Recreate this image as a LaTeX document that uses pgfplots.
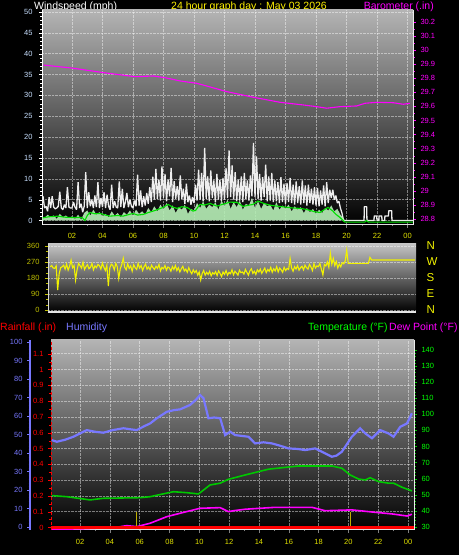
\documentclass[border=0pt]{standalone}
\usepackage{pgfplots}
\pgfplotsset{compat=1.18}
\usepackage{fontspec}
\setmainfont{Liberation Sans}
\definecolor{tickblue}{HTML}{C8E0FF}
\definecolor{baro}{HTML}{FF00FF}
\definecolor{xlab}{HTML}{E0E000}
\definecolor{ylw}{HTML}{F2F200}
\definecolor{olv}{HTML}{C0C000}
\definecolor{gust}{HTML}{EEEEEE}
\definecolor{windfill}{HTML}{B8F0B8}
\definecolor{avgwind}{HTML}{00E000}
\definecolor{hum}{HTML}{7878FF}
\definecolor{temp}{HTML}{00C800}
\definecolor{templab}{HTML}{00FF00}
\definecolor{rain}{HTML}{FF0000}
\definecolor{bgtop}{HTML}{B4B4B4}
\definecolor{bgtop2}{HTML}{C4C4C4}
\definecolor{rainbar}{HTML}{C0B000}
\pgfplotsset{
  base/.style={scale only axis, anchor=south west,
    /pgf/number format/assume math mode=true,
    tick label style={font=\fontsize{7.5}{8}\selectfont},
    major tick length=3pt, minor tick length=1.5pt, tick align=outside},
  dgrid/.style={grid style={densely dotted, white, opacity=0.45, line width=0.5pt}},
}
\begin{document}
\begin{tikzpicture}
\fill[black] (0pt,0pt) rectangle (459pt,555pt);
% titles
\node[anchor=base west, inner sep=0pt, white, font=\fontsize{10.5}{12}\selectfont] at (34pt,545.5pt) {Windspeed (mph)};
\node[anchor=base, inner sep=0pt, yellow, font=\fontsize{10.5}{12}\selectfont] at (249pt,545.5pt) {24 hour graph day : May 03 2026};
\node[anchor=base east, inner sep=0pt, baro, font=\fontsize{10.5}{12}\selectfont] at (434pt,545.5pt) {Barometer (.in)};
\node[anchor=base west, inner sep=0pt, rain, font=\fontsize{10.5}{12}\selectfont] at (0pt,224.5pt) {Rainfall (.in)};
\node[anchor=base west, inner sep=0pt, hum, font=\fontsize{10.5}{12}\selectfont] at (66pt,224.5pt) {Humidity};
\node[anchor=base west, inner sep=0pt, templab, font=\fontsize{10.5}{12}\selectfont] at (308pt,224.5pt) {Temperature (°F)};
\node[anchor=base west, inner sep=0pt, baro, font=\fontsize{10.5}{12}\selectfont] at (389pt,224.5pt) {Dew Point (°F)};

% ===== Panel 1: wind speed =====
\begin{axis}[base, dgrid, at={(42pt,330pt)}, width=371pt, height=215pt,
  xmin=0.033, xmax=24.36, ymin=-1.08, ymax=50.48,
  axis y line*=left, axis x line*=bottom,
  axis background/.style={top color=bgtop, bottom color=black},
  xtick={2,4,...,24}, xticklabels={02,04,06,08,10,12,14,16,18,20,22,00},
  minor x tick num=1,
  ytick={0,5,...,50}, minor y tick num=4,
  xticklabel style={xlab, yshift=-1.5pt},
  yticklabel style={tickblue, xshift=-3pt},
  x axis line style={-, white!75!gray, line width=1pt},
  y axis line style={-, white, line width=1pt},
  x tick style={gray}, y tick style={white},
  grid=major]
\addplot[gust, line width=1.3pt, line join=bevel] table[row sep=\\] {
0.0 3.2\\0.1 5.8\\0.2 3.0\\0.3 3.4\\0.4 2.2\\0.5 5.6\\0.6 3.0\\0.7 5.8\\0.8 3.2\\0.9 2.8\\
1.0 3.0\\1.1 3.4\\1.2 6.9\\1.3 3.0\\1.4 2.6\\1.5 3.8\\1.6 3.0\\1.7 8.0\\1.8 3.2\\1.9 3.0\\
2.0 3.0\\2.1 4.4\\2.2 3.2\\2.3 2.6\\2.4 9.2\\2.5 3.0\\2.6 4.0\\2.7 2.0\\2.8 3.4\\2.9 11.6\\
3.0 3.0\\3.1 6.8\\3.2 3.4\\3.3 5.0\\3.4 3.0\\3.5 6.0\\3.6 3.2\\3.7 9.2\\3.8 3.0\\3.9 5.4\\
4.0 3.2\\4.1 6.8\\4.2 3.0\\4.3 6.2\\4.4 3.4\\4.5 2.6\\4.6 8.6\\4.7 3.0\\4.8 4.6\\4.9 3.2\\
5.0 3.0\\5.1 9.4\\5.2 3.2\\5.3 7.6\\5.4 3.0\\5.5 4.4\\5.6 6.6\\5.7 3.2\\5.8 5.0\\5.9 3.4\\
6.0 3.0\\6.1 4.8\\6.2 3.4\\6.3 11.0\\6.4 3.6\\6.5 7.2\\6.6 3.2\\6.7 5.8\\6.8 3.6\\6.9 6.6\\
7.0 4.0\\7.1 8.0\\7.2 4.4\\7.3 10.5\\7.4 5.0\\7.5 12.4\\7.6 5.2\\7.7 9.8\\7.8 4.8\\7.9 13.0\\
8.0 5.4\\8.1 11.2\\8.2 4.6\\8.3 9.8\\8.4 5.8\\8.5 12.6\\8.6 4.4\\8.7 9.4\\8.8 5.2\\8.9 8.2\\
9.0 4.8\\9.1 10.8\\9.2 5.2\\9.3 7.6\\9.4 4.0\\9.5 8.8\\9.6 4.4\\9.7 6.0\\9.8 3.8\\9.9 5.6\\
10.0 4.2\\10.1 8.6\\10.2 4.8\\10.3 12.2\\10.4 5.0\\10.5 11.4\\10.6 4.6\\10.7 17.4\\10.8 5.2\\10.9 10.6\\
11.0 4.6\\11.1 12.0\\11.2 5.4\\11.3 9.6\\11.4 4.4\\11.5 11.2\\11.6 5.0\\11.7 9.8\\11.8 4.6\\11.9 10.2\\
12.0 5.0\\12.1 12.6\\12.2 5.4\\12.3 16.8\\12.4 5.6\\12.5 13.2\\12.6 5.0\\12.7 11.6\\12.8 4.6\\12.9 9.8\\
13.0 4.8\\13.1 10.6\\13.2 4.4\\13.3 11.4\\13.4 5.2\\13.5 9.6\\13.6 4.8\\13.7 10.8\\13.8 5.8\\13.9 18.6\\
14.0 5.6\\14.1 15.4\\14.2 5.2\\14.3 11.2\\14.4 4.8\\14.5 10.4\\14.6 5.6\\14.7 13.4\\14.8 4.6\\14.9 10.6\\
15.0 4.8\\15.1 11.4\\15.2 4.4\\15.3 9.6\\15.4 4.6\\15.5 9.2\\15.6 4.2\\15.7 10.4\\15.8 4.4\\15.9 8.8\\
16.0 4.0\\16.1 9.0\\16.2 4.4\\16.3 10.2\\16.4 4.2\\16.5 8.6\\16.6 3.8\\16.7 9.4\\16.8 4.2\\16.9 8.2\\
17.0 3.8\\17.1 9.6\\17.2 4.2\\17.3 8.4\\17.4 3.6\\17.5 8.6\\17.6 4.2\\17.7 7.6\\17.8 3.8\\17.9 8.0\\
18.0 3.6\\18.1 7.8\\18.2 3.4\\18.3 7.2\\18.4 3.8\\18.5 8.4\\18.6 3.4\\18.7 9.2\\18.8 4.2\\18.9 7.4\\
19.0 5.4\\19.1 7.4\\19.2 5.0\\19.3 6.0\\19.4 4.2\\19.5 4.6\\19.6 3.0\\19.7 1.8\\19.8 0\\
21.15 0\\21.17 3.3\\21.32 3.3\\21.34 0\\21.8 0\\21.82 1.1\\21.98 1.1\\22.0 0\\22.12 0\\22.13 1.1\\22.31 1.1\\22.33 0\\
22.5 0\\22.52 1.1\\22.75 1.1\\22.77 2.35\\22.96 2.35\\22.98 0\\24.36 0\\
};
\addplot[draw=none, fill=windfill, fill opacity=0.9] table[row sep=\\] {
0.0 1.0\\0.2 0.6\\0.4 1.4\\0.6 0.8\\0.8 1.2\\1.0 0.4\\1.2 1.6\\1.4 0.8\\1.6 1.2\\1.8 0.6\\
2.0 1.0\\2.2 0.4\\2.4 1.4\\2.6 0.2\\2.8 1.8\\3.0 2.4\\3.2 1.2\\3.4 2.6\\3.6 1.4\\3.8 2.0\\
4.0 1.0\\4.2 1.6\\4.4 0.8\\4.6 2.2\\4.8 1.2\\5.0 1.8\\5.2 0.8\\5.4 2.0\\5.6 1.4\\5.8 2.4\\
6.0 1.2\\6.2 2.6\\6.4 1.6\\6.6 2.2\\6.8 1.4\\7.0 3.0\\7.2 2.0\\7.4 3.4\\7.6 2.2\\7.8 3.8\\
8.0 2.6\\8.2 4.2\\8.4 2.4\\8.6 3.6\\8.8 1.8\\9.0 3.2\\9.2 2.6\\9.4 3.8\\9.6 1.6\\9.8 2.8\\
10.0 2.4\\10.2 4.2\\10.4 3.0\\10.6 4.6\\10.8 2.8\\11.0 3.8\\11.2 3.2\\11.4 4.4\\11.6 2.6\\11.8 4.8\\
12.0 3.4\\12.2 5.0\\12.4 2.8\\12.6 4.4\\12.8 3.2\\13.0 4.8\\13.2 2.6\\13.4 4.0\\13.6 3.6\\13.8 5.4\\
14.0 3.0\\14.2 4.6\\14.4 2.8\\14.6 4.2\\14.8 3.4\\15.0 3.8\\15.2 2.4\\15.4 4.4\\15.6 2.6\\15.8 3.6\\
16.0 2.8\\16.2 3.8\\16.4 2.2\\16.6 3.4\\16.8 2.6\\17.0 3.2\\17.2 1.8\\17.4 3.0\\17.6 2.0\\17.8 2.8\\
18.0 1.6\\18.2 2.6\\18.4 1.8\\18.6 3.0\\18.8 2.4\\19.0 3.6\\19.2 2.2\\19.4 2.8\\19.6 1.4\\19.8 0.6\\
19.9 0\\24.36 0\\
} \closedcycle;
\addplot[avgwind, line width=1.1pt] coordinates {
(0.1,0.65) (0.5,0.9) (1.08,1.04) (1.5,0.8) (2.0,0.72) (2.66,0.72) (2.85,0.0) (3.0,1.2) (3.18,1.93) (3.5,1.6) (3.84,1.69) (4.2,1.3) (4.49,1.04) (5.0,1.2) (5.34,1.04) (5.7,1.4) (6.0,1.69) (6.3,1.3) (6.66,1.45) (7.0,1.9) (7.31,2.25) (7.6,2.6) (7.97,3.14) (8.3,3.86) (8.6,3.2) (8.89,2.9) (9.2,3.3) (9.54,3.14) (9.93,2.25) (10.1,2.4) (10.39,3.86) (10.7,3.7) (11.05,4.1) (11.5,3.45) (11.9,3.9) (12.36,4.4) (12.82,4.35) (13.21,3.38) (13.5,3.6) (13.87,3.86) (14.2,4.66) (14.5,4.2) (14.79,3.86) (15.1,3.6) (15.44,3.45) (15.8,3.3) (16.1,3.14) (16.5,3.0) (16.95,2.9) (17.3,2.7) (17.61,2.42) (17.9,2.1) (18.26,1.93) (18.5,2.5) (18.79,3.14) (19.11,2.25) (19.3,1.5) (19.57,0.72) (19.9,-0.4) (21.2,-0.4) (21.3,0.0) (21.45,-0.4) (24.36,-0.4)};
\end{axis}
% barometer
\begin{axis}[base, at={(42pt,330pt)}, width=371pt, height=215pt,
  xmin=0.033, xmax=24.36, ymin=28.757, ymax=30.285,
  axis y line*=right, axis x line=none,
  ytick={28.8,28.9,29,29.1,29.2,29.3,29.4,29.5,29.6,29.7,29.8,29.9,30,30.1,30.2},
  minor y tick num=1,
  /pgf/number format/.cd, fixed, precision=1, /pgfplots/.cd,
  yticklabel style={baro, xshift=1pt},
  y tick style={baro},
  y axis line style={-, white!85!gray, line width=1pt}]
\addplot[baro, line width=1.1pt] coordinates {
(0.12,29.894) (2.09,29.871) (4.05,29.840) (6.13,29.811) (7.33,29.816) (8.10,29.804) (9.08,29.781) (10.18,29.764) (10.83,29.745) (12.14,29.705) (13.89,29.665) (15.64,29.629) (17.17,29.610) (18.05,29.598) (18.70,29.587) (19.57,29.598) (20.67,29.603) (21.21,29.622) (21.98,29.629) (23.07,29.626) (23.72,29.615) (24.16,29.622)};
\end{axis}

% ===== Panel 2: wind direction =====
\begin{axis}[base, dgrid, at={(48pt,243pt)}, width=368pt, height=68pt,
  xmin=-0.15, xmax=24.55, ymin=-11.25, ymax=371.25,
  axis y line*=left, axis x line*=bottom,
  axis background/.style={top color=bgtop2, bottom color=black},
  xtick=\empty,
  ytick={0,90,180,270,360}, minor y tick num=2,
  yticklabel style={olv, xshift=-2pt},
  y tick style={olv},
  x axis line style={-, white!80!gray, line width=1.2pt},
  y axis line style={-, white!70!gray, line width=1pt},
  ymajorgrids]
\addplot[ylw, line width=1.1pt] table[row sep=\\] {
0.0 243\\0.1 250\\0.2 236\\0.3 234\\0.4 248\\0.5 112\\0.6 205\\0.7 238\\0.8 243\\0.9 252\\
1.0 230\\1.1 258\\1.2 224\\1.3 246\\1.4 281\\1.5 238\\1.6 250\\1.7 169\\1.8 226\\1.9 262\\
2.0 250\\2.1 236\\2.2 268\\2.3 228\\2.4 244\\2.5 255\\2.6 232\\2.7 240\\2.8 262\\2.9 226\\
3.0 248\\3.1 238\\3.2 256\\3.3 250\\3.4 230\\3.5 264\\3.6 240\\3.7 222\\3.8 252\\3.9 135\\
4.0 238\\4.1 258\\4.2 250\\4.3 226\\4.4 262\\4.5 244\\4.6 178\\4.7 232\\4.8 255\\4.9 291\\
5.0 240\\5.1 226\\5.2 260\\5.3 234\\5.4 248\\5.5 218\\5.6 254\\5.7 238\\5.8 228\\5.9 262\\
6.0 236\\6.1 250\\6.2 222\\6.3 244\\6.4 258\\6.5 230\\6.6 242\\6.7 226\\6.8 252\\6.9 238\\
7.0 228\\7.1 246\\7.2 234\\7.3 256\\7.4 220\\7.5 240\\7.6 232\\7.7 250\\7.8 224\\7.9 242\\
8.0 236\\8.1 218\\8.2 244\\8.3 228\\8.4 250\\8.5 222\\8.6 238\\8.7 214\\8.8 232\\8.9 246\\
9.0 220\\9.1 230\\9.2 212\\9.3 238\\9.4 218\\9.5 204\\9.6 226\\9.7 210\\9.8 222\\9.9 196\\
10.0 214\\10.1 169\\10.2 206\\10.3 222\\10.4 196\\10.5 212\\10.6 200\\10.7 218\\10.8 192\\10.9 210\\
11.0 202\\11.1 216\\11.2 194\\11.3 220\\11.4 206\\11.5 188\\11.6 214\\11.7 200\\11.8 222\\11.9 196\\
12.0 212\\12.1 204\\12.2 226\\12.3 198\\12.4 218\\12.5 208\\12.6 196\\12.7 224\\12.8 210\\12.9 214\\
13.0 202\\13.1 228\\13.2 212\\13.3 196\\13.4 220\\13.5 232\\13.6 206\\13.7 218\\13.8 200\\13.9 226\\
14.0 214\\14.1 230\\14.2 206\\14.3 222\\14.4 236\\14.5 210\\14.6 228\\14.7 218\\14.8 240\\14.9 212\\
15.0 232\\15.1 220\\15.2 244\\15.3 214\\15.4 236\\15.5 226\\15.6 212\\15.7 240\\15.8 222\\15.9 234\\
16.0 228\\16.1 290\\16.2 236\\16.3 218\\16.4 244\\16.5 230\\16.6 250\\16.7 224\\16.8 238\\16.9 246\\
17.0 226\\17.1 252\\17.2 238\\17.3 230\\17.4 256\\17.5 242\\17.6 222\\17.7 260\\17.8 236\\17.9 248\\
18.0 244\\18.1 262\\18.2 230\\18.3 197\\18.4 256\\18.5 248\\18.6 270\\18.7 240\\18.8 319\\18.9 258\\
19.0 290\\19.1 250\\19.2 272\\19.3 236\\19.4 258\\19.5 243\\19.6 266\\19.7 260\\19.8 276\\19.9 337\\
20.0 262\\21.35 262\\21.46 296\\21.58 281\\24.48 281\\
};
\end{axis}
\begin{axis}[base, at={(48pt,243pt)}, width=368pt, height=68pt,
  xmin=-0.15, xmax=24.55, ymin=-11.25, ymax=371.25,
  axis y line*=right, axis x line=none,
  ytick={0,90,180,270,360}, yticklabels={N,E,S,W,N},
  yticklabel style={ylw, font=\fontsize{11.5}{12}\selectfont, xshift=7pt},
  major tick length=0pt, y axis line style={draw=none}]
\end{axis}

% ===== Panel 3: rain / humidity / temperature =====
\begin{axis}[base, dgrid, at={(51pt,25pt)}, width=363pt, height=190pt,
  xmin=0.05, xmax=24.4, ymin=-0.016, ymax=1.187,
  axis y line*=left, axis x line*=bottom,
  axis background/.style={top color=bgtop, bottom color=black},
  xtick={2,4,...,24}, xticklabels={02,04,06,08,10,12,14,16,18,20,22,00},
  minor x tick num=1,
  ytick={0,0.1,0.2,0.3,0.4,0.5,0.6,0.7,0.8,0.9,1,1.1},
  minor y tick num=1,
  xticklabel style={xlab, yshift=-3pt},
  yticklabel style={rain, xshift=-1pt},
  x tick style={gray}, y tick style={rain},
  x axis line style={-, white!75!gray, line width=1pt},
  y axis line style={-, rain, densely dashed, line width=1pt},
  grid=major]
\end{axis}
\begin{axis}[base, at={(30pt,25pt)}, width=1pt, height=190pt,
  xmin=0, xmax=1, ymin=-1.6, ymax=101.1,
  axis y line*=left, axis x line=none,
  ytick={0,10,...,100}, minor y tick num=4,
  yticklabel style={hum, xshift=-1pt}, y tick style={hum},
  y axis line style={-, hum, line width=1.5pt}]
\end{axis}
\begin{axis}[base, at={(51pt,25pt)}, width=363pt, height=190pt,
  xmin=0.05, xmax=24.4, ymin=-1.6, ymax=101.1, hide axis]
\addplot[hum, line width=2.2pt] coordinates {
(0.10,47) (0.44,46.1) (1.0,47.2) (1.55,48.8) (2.0,50.6) (2.45,52.4) (3.0,51.5) (3.56,51) (4.2,52.4) (4.91,53.4) (5.4,52.8) (5.81,52.4) (6.3,54.5) (6.70,56.0) (7.15,58.8) (7.82,62.3) (8.3,63.2) (8.71,63.6) (9.1,65) (9.38,66) (9.8,69) (10.05,71.4) (10.28,69.6) (10.61,58.8) (11.0,59.2) (11.40,58.8) (11.73,49.7) (12.07,51.5) (12.40,49.7) (12.9,49.2) (13.30,48.8) (13.74,45.2) (14.3,45.8) (14.87,45.2) (15.4,44) (15.98,42.5) (16.6,42.2) (17.10,41.6) (17.77,42.5) (18.22,40.7) (18.89,38) (19.2,38.6) (19.56,40.7) (20.23,48.8) (20.79,53.4) (21.13,50.6) (21.58,48) (22.13,52.4) (22.69,50.6) (23.03,48.8) (23.48,54.2) (23.93,56) (24.15,59.6) (24.26,61.5)};
\end{axis}
\begin{axis}[base, at={(51pt,25pt)}, width=363pt, height=190pt,
  xmin=0.05, xmax=24.4, ymin=28.1, ymax=146.2,
  axis y line*=right, axis x line=none,
  ytick={30,40,...,140}, minor y tick num=4,
  yticklabel style={templab, xshift=1pt}, y tick style={temp},
  y axis line style={-, white!85!gray, line width=1pt}]
\addplot[temp, line width=1.6pt] coordinates {
(0.1,49.5) (1.11,48.8) (2.67,46.8) (3.56,47.8) (6.03,48.2) (6.70,48.8) (8.26,51.9) (9.16,51.3) (9.94,50.5) (10.72,56.1) (11.40,57.2) (11.95,59.6) (13.07,62.3) (14.64,65.9) (16.65,67.9) (18.89,67.9) (19.56,66.5) (20.12,62.3) (20.68,59.8) (21.13,59.2) (21.46,60.6) (22.02,58.2) (22.69,57.2) (23.03,57.2) (23.59,54.7) (24.26,52.4)};
\addplot[baro, line width=1.6pt] coordinates {
(0.1,28.6) (2.0,28.8) (4.46,29.8) (5.13,30.8) (5.81,30.2) (6.70,32.3) (7.82,36.4) (8.71,38.5) (10.05,41.6) (11.40,42.0) (11.95,39.5) (12.3,40.1) (13.07,41.0) (15.08,42.2) (17.55,42.2) (18.44,40.1) (20.23,40.6) (21.79,39.1) (22.92,38.1) (23.93,36.8) (24.26,37.9)};
\end{axis}
\begin{axis}[base, at={(51pt,25pt)}, width=363pt, height=190pt,
  xmin=0.05, xmax=24.4, ymin=-0.016, ymax=1.187, hide axis, clip=false]
\addplot[rainbar, ycomb, line width=1.2pt] coordinates {(5.8,0.1) (20.12,0.1)};
\addplot[rain, line width=2.5pt] coordinates {(0.05,0) (24.4,0)};
\end{axis}
\end{tikzpicture}
\end{document}
